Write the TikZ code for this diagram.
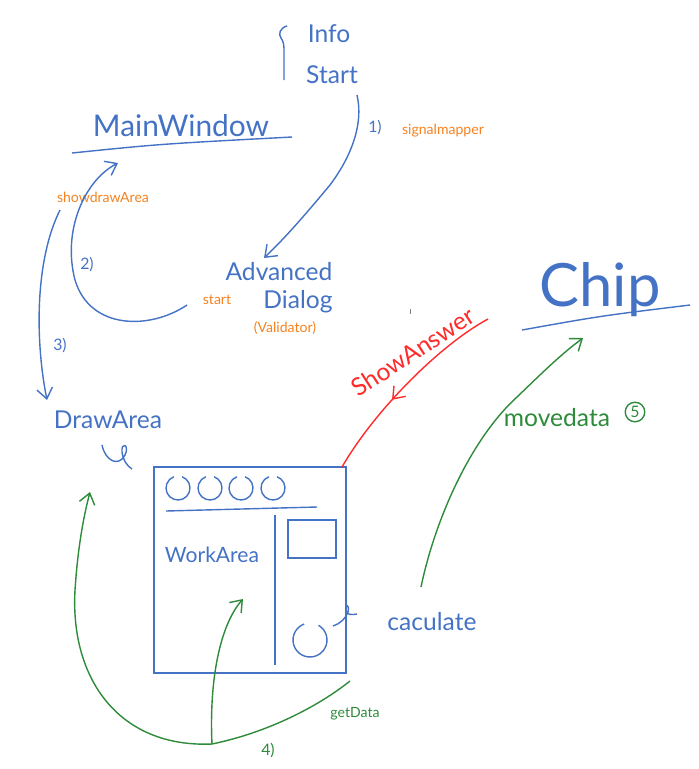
\documentclass[tikz,border=0pt]{standalone}
\usepackage{fontspec}
\setmainfont{Lato}
\usepackage{tikz}
\usetikzlibrary{arrows.meta,decorations.markings}
\usetikzlibrary{positioning}
\definecolor{penblue}{HTML}{4472C4}
\definecolor{penorange}{HTML}{F58220}
\definecolor{pengreen}{HTML}{2E8B3A}
\definecolor{penred}{HTML}{FF2A2A}

\begin{document}
\begin{tikzpicture}
	[
	x = 0.02cm, y = -0.02cm,
	line width = 0.8pt,
	> = {Straight Barb[length=6pt,width=9pt]},
	word/.style = {text=penblue, inner sep=0pt, font=\fontsize{14}{16}\selectfont},
	note/.style = {text=penorange, inner sep=0pt, font=\fontsize{8}{9}\selectfont},
	num/.style = {text=penblue, inner sep=0pt, font=\fontsize{9}{10}\selectfont},
	arrow inside/.style = {postaction=decorate,decoration={markings,mark=at position .6 with \arrow{>}}}
	]
		\useasboundingbox (0,0) rectangle (699,769);

		\node[word] (info) at (329,34) {Info};
		\node[word] (start) at (332,75) {Start};
		\node[word, font=\fontsize{17}{20}\selectfont] (mainwin) at (181,126) {MainWindow};
		\node[word] (adv) at (279,272) {Advanced};
		\node[word] (dialog) at (298,302) {Dialog};
		\node[note] (validator) at (285,328) {(Validator)};
		\node[word, font=\fontsize{34}{40}\selectfont] (chip) at (600,290) {Chip};
		\node[word] (drawarea) at (108,420) {DrawArea};
		\node[word, font=\fontsize{12}{14}\selectfont] (workarea) at (212,555) {WorkArea};
		\node[word] (calc) at (432,622) {caculate};
		\node[word, text=pengreen] (movedata) at (557,418) {movedata};
		\node[circle, draw=pengreen, text=pengreen, inner sep=1pt, font=\fontsize{9}{10}\selectfont] (five) at (635,412) {5};
		\node[word, text=penred, font=\fontsize{14}{16}\selectfont, rotate=33] (showans) at (413,352) {ShowAnswer};

		\node[note] (mapper) at (443,131) {signalmapper};
		\node[note] (showdraw) at (103,197) {showdrawArea};
		\node[note] (startlbl) at (217,300) {start};
		\node[note, text=pengreen] (getdata) at (355,714) {getData};
		\node[num] (n1) at (375,128) {1)};
		\node[num] (n2) at (87,265) {2)};
		\node[num] (n3) at (60,346) {3)};
		\node[num, text=pengreen] (n4) at (268,751) {4)};

		\coordinate (@start) at (357,95);
		\coordinate (@adv) at (264,258);
		\coordinate (@dialog) at (187,305);
		\coordinate (@main) at (118,163);
		\coordinate (@show) at (60,210);
		\coordinate (@draw) at (47,400);
		\coordinate (@chip) at (488,319);
		\coordinate (@box) at (342,467);
		\coordinate (@calc) at (421,587);
		\coordinate (@chipin) at (583,338);
		\coordinate (@hub) at (212,744);
		\coordinate (@drawin) at (90,492);
		\coordinate (@workin) at (243,599);
		\coordinate (@get) at (350,681);

		% brace and underlines
		\draw[penblue] (287,26) .. controls (280,28) and (278,34) .. (281,38) .. controls (284,42) and (284,46) .. (284,52) -- (284,80);
		\draw[penblue] (72,153) .. controls (160,144) .. (292,137);
		\draw[penblue] (522,330) .. controls (600,316) .. (690,305);
		\draw[gray, line width=0.5pt] (410,309) -- (410,314);

		% the work window
		\node[draw=penblue, minimum width=3.84cm, minimum height=4.12cm] (workwin) at (250,570) {};
		\draw[penblue] (166,511) -- (317,507);
		\draw[penblue] (275,515) -- (275,665);
		\draw[penblue] (288,520) rectangle (336,558);
		\foreach \cx in {178,210,241,273}
			\draw[penblue] (\cx,488) ++(-70:12) arc[start angle=-70, end angle=250, radius=12];
		\draw[penblue] (310,640) ++(-60:17) arc[start angle=-60, end angle=250, radius=17];
		\draw[penblue] (333,626) .. controls (340,624) and (346,618) .. (348,612) .. controls (350,604) and (345,604) .. (346,611) .. controls (347,615) and (352,615) .. (357,614);
		\draw[penblue] (102,445) .. controls (105,460) and (118,468) .. (125,455) .. controls (130,445) and (121,441) .. (122,452) .. controls (123,460) and (127,466) .. (132,469);

		\draw[penblue, ->] (@start) .. controls (365,130) and (345,165) .. (330,185) .. controls (305,215) and (285,238) .. (@adv);
		\draw[penblue, ->] (@dialog) .. controls (150,330) and (90,330) .. (75,280) .. controls (62,230) and (85,180) .. (@main);
		\draw[penblue, ->] (@show) .. controls (35,260) and (35,340) .. (@draw);
		\draw[penred, color=penred, arrow inside] (@chip) .. controls (440,345) and (375,410) .. (@box);
		\draw[pengreen, ->] (@calc) .. controls (435,520) and (470,440) .. (517,397) .. controls (540,375) and (560,355) .. (@chipin);

		\draw[pengreen, ->] (@hub) .. controls (120,748) and (70,680) .. (75,590) .. controls (78,545) and (84,515) .. (@drawin);
		\draw[pengreen, ->] (@hub) .. controls (209,680) and (220,625) .. (@workin);
		\draw[pengreen] (@hub) .. controls (270,732) and (320,705) .. (@get);

	\end{tikzpicture}
\end{document}
